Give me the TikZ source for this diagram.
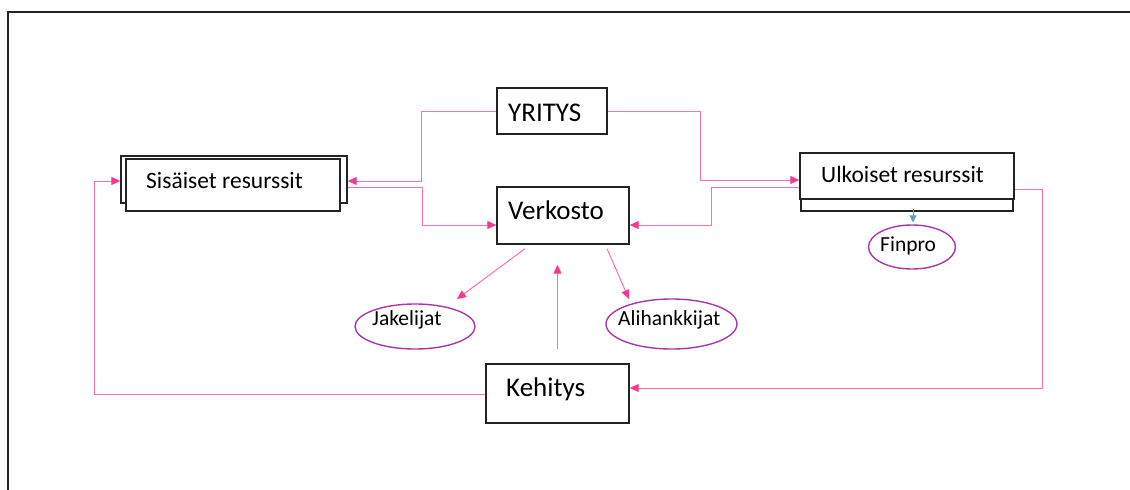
\documentclass[tikz,border=0pt]{standalone}
\usepackage{fontspec}
\setmainfont{Carlito}
\usetikzlibrary{arrows.meta,shapes.geometric}
\definecolor{lnpink}{RGB}{255,110,175}
\definecolor{tippink}{RGB}{250,55,140}
\definecolor{ellpurple}{RGB}{170,55,165}
\definecolor{arrblue}{RGB}{91,155,213}
\definecolor{boxgray}{RGB}{35,35,35}
\begin{document}
\begin{tikzpicture}[x=1pt,y=-1pt,
  box/.style={draw=boxgray, line width=1.4pt, fill=white, inner sep=0pt},
  lbl/.style={inner sep=0pt, anchor=base west, text=black},
  big/.style={font=\fontsize{27}{32}\selectfont},
  mid/.style={font=\fontsize{23.5}{28}\selectfont},
  sml/.style={font=\fontsize{21.5}{26}\selectfont},
  ell/.style={draw=ellpurple, line width=1.4pt, ellipse, inner sep=0pt},
  conn/.style={draw=lnpink, line width=1pt, -{Triangle[length=9pt,width=8pt,color=tippink]}},
  bconn/.style={draw=arrblue, line width=1pt, -{Triangle[length=7pt,width=7pt,color=arrblue]}}
]
\useasboundingbox (0,0) rectangle (1130,490);
\draw[line width=1.4pt, boxgray] (1130,12) -- (8,12) -- (8,490);

% boxes
\node[box, minimum width=110pt, minimum height=46pt] (yr) at (552,111) {};
\node[lbl, big] (yrt) at (508,121) {YRITYS};
\node[box, minimum width=132pt, minimum height=57pt] (vk) at (563,215.5) {};
\node[lbl, big] (vkt) at (508,219) {Verkosto};
\node[box, minimum width=143pt, minimum height=59pt] (kh) at (557.5,393.5) {};
\node[lbl, big] (kht) at (506,396) {Kehitys};

\node[box, minimum width=226pt, minimum height=47pt] (sisb) at (234,179.5) {};
\node[box, minimum width=214pt, minimum height=52pt] (sis) at (233,185) {};
\node[lbl, mid] (sist) at (146,188) {Sisäiset resurssit};

\node[box, minimum width=212pt, minimum height=51pt] (ulb) at (907,185.5) {};
\node[box, minimum width=214pt, minimum height=46pt] (ul) at (907,176) {};
\node[lbl, mid] (ult) at (821,182) {Ulkoiset resurssit};

% ellipses
\node[ell, minimum width=87pt, minimum height=44pt] (fp) at (912,247) {};
\node[lbl, sml] (fpt) at (880,251) {Finpro};
\node[ell, minimum width=120pt, minimum height=45pt] (jk) at (415,326.5) {};
\node[lbl, sml] (jkt) at (372,325) {Jakelijat};
\node[ell, minimum width=131pt, minimum height=50pt] (ah) at (671.5,324) {};
\node[lbl, sml] (aht) at (618,325) {Alihankkijat};

% connectors
\draw[conn] (yr.west) -- ++(-75,0) |- ([yshift=-1.5pt]sisb.east);
\draw[conn] ([yshift=-7.5pt]sisb.east) -- ++(75,0) |- ([yshift=-9.5pt]vk.west);
\draw[conn] (yr.east) -- ++(93,0) |- ([yshift=-4pt]ul.west);
\draw[conn] ([yshift=-11pt]ul.west) -- ++(-88,0) |- ([yshift=-9.5pt]vk.east);
\draw[conn] ([yshift=-13pt]ul.east) -- ++(28,0) |- ([yshift=5.5pt]kh.east);
\draw[conn] ([yshift=-0.5pt]kh.west) -- ++(-391,0) |- ([yshift=-1.5pt]sisb.west);
\draw[conn] ([xshift=-38pt,yshift=-4pt]vk.south) -- ([xshift=42pt,yshift=27.5pt]jk.center);
\draw[conn] ([xshift=44pt,yshift=-4pt]vk.south) -- ([xshift=-42.5pt,yshift=25pt]ah.center);
\draw[conn] ([yshift=14pt]kh.north) -- ([xshift=-5.5pt,yshift=-20pt]vk.south);
\draw[bconn] ([xshift=6pt,yshift=-9pt]ul.south) -- ([xshift=1pt,yshift=2pt]fp.north);
\end{tikzpicture}
\end{document}
